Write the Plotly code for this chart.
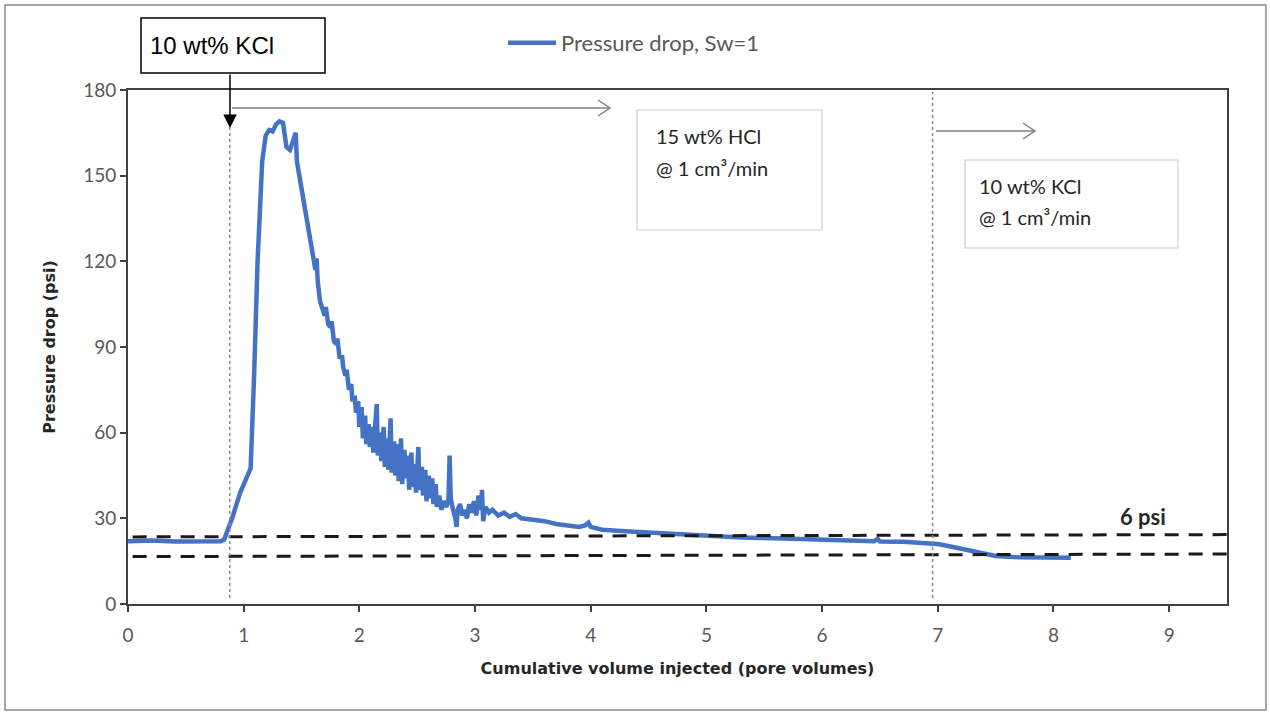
import plotly.graph_objects as go

# ---------------- data ----------------
pv = [0.0, 0.2, 0.4, 0.6, 0.8, 0.83, 0.9, 0.97, 1.03, 1.06, 1.09, 1.12, 1.16, 1.19,
      1.22, 1.25, 1.28, 1.31, 1.34, 1.37, 1.40, 1.43, 1.45, 1.46, 1.50, 1.55, 1.60,
      1.62, 1.63, 1.64, 1.66, 1.68, 1.70, 1.71, 1.73, 1.75, 1.76, 1.78, 1.80, 1.81,
      1.83, 1.85, 1.86, 1.88, 1.89, 1.91, 1.93, 1.94, 1.96, 1.97, 1.99, 2.00, 2.02,
      2.03, 2.05, 2.06, 2.08, 2.09, 2.11, 2.12, 2.14, 2.15, 2.16, 2.18, 2.19, 2.21,
      2.22, 2.24, 2.25, 2.27, 2.28, 2.30, 2.31, 2.33, 2.34, 2.36, 2.37, 2.39, 2.40,
      2.42, 2.43, 2.45, 2.46, 2.48, 2.49, 2.51, 2.52, 2.54, 2.55, 2.57, 2.58, 2.60,
      2.61, 2.63, 2.64, 2.66, 2.67, 2.69, 2.71, 2.73, 2.75, 2.77, 2.78, 2.79, 2.81,
      2.83, 2.84, 2.85, 2.87, 2.89, 2.91, 2.93, 2.95, 2.97, 2.99, 3.01, 3.03, 3.05,
      3.06, 3.07, 3.09, 3.12, 3.15, 3.20, 3.25, 3.30, 3.35, 3.40, 3.50, 3.60, 3.70,
      3.80, 3.90, 3.95, 3.98, 4.00, 4.10, 4.30, 4.50, 4.70, 5.00, 5.30, 5.60, 5.90,
      6.20, 6.45, 6.48, 6.50, 6.70, 6.90, 7.00, 7.10, 7.20, 7.30, 7.40, 7.50, 7.70,
      7.90, 8.10, 8.15]
dp = [22.0, 22.2, 21.9, 22.1, 22.0, 22.5, 30.0, 39.0, 45.0, 47.5, 80.0, 120.0, 155.0, 164.0,
      166.0, 165.5, 168.0, 169.0, 168.5, 160.0, 159.0, 162.0, 165.0, 155.0, 145.0, 133.0, 120.0,
      117.0, 121.0, 113.0, 106.0, 104.0, 101.0, 104.0, 98.0, 97.0, 99.0, 92.0, 91.0, 93.0,
      86.0, 87.0, 83.0, 80.0, 82.0, 75.0, 77.0, 71.0, 73.0, 67.0, 71.0, 62.0, 69.0,
      58.0, 66.0, 56.0, 63.0, 55.0, 62.0, 53.0, 67.0, 70.0, 52.0, 60.0, 50.0, 62.0,
      48.0, 58.0, 47.0, 65.0, 46.0, 57.0, 45.0, 56.0, 43.0, 58.0, 42.0, 54.0, 44.0,
      52.0, 40.0, 53.0, 41.0, 49.0, 39.0, 55.0, 40.0, 48.0, 38.0, 47.0, 36.0, 45.0,
      37.0, 44.0, 35.0, 42.0, 34.0, 38.0, 33.0, 36.0, 34.0, 36.0, 52.0, 37.0, 33.0,
      30.0, 27.0, 33.0, 35.0, 31.0, 33.0, 30.0, 35.0, 32.0, 36.0, 31.0, 38.0, 33.0,
      40.0, 29.0, 34.0, 32.0, 33.0, 31.0, 32.0, 30.5, 31.5, 30.0, 29.5, 29.0, 28.0,
      27.5, 27.0, 27.5, 28.5, 27.0, 26.0, 25.5, 25.0, 24.5, 23.8, 23.3, 23.0, 22.7,
      22.4, 22.0, 22.8, 21.9, 21.8, 21.5, 21.0, 20.2, 19.3, 18.3, 17.4, 16.8, 16.4,
      16.2, 16.0, 16.2]

ref_x = [0.04, 9.5]          # reference (dashed) lines
ref_upper = [23.5, 24.3]
ref_lower = [16.6, 17.5]
phase_x = [0.88, 6.955]      # fluid switch points

x_ticks = [0, 1, 2, 3, 4, 5, 6, 7, 8, 9]
y_ticks = [0, 30, 60, 90, 120, 150, 180]

# ---------------- layout helpers ----------------
W, H = 1270, 713
L, R, T, B = 128, 1227, 90, 604


def px(p):
    return (p - L) / (R - L)


def py(p):
    return (B - p) / (B - T)


BLUE = "#4472C4"
GRAY_TXT = "#595959"
DARK_TXT = "#262626"

fig = go.Figure()
fig.add_trace(go.Scatter(x=pv, y=dp, mode="lines", name="Pressure drop, Sw=1",
                         line=dict(color=BLUE, width=4.5)))
for yy in (ref_upper, ref_lower):
    fig.add_trace(go.Scatter(x=ref_x, y=yy, mode="lines", showlegend=False,
                             line=dict(color="#1a1a1a", width=3, dash="14px,10px")))

shapes = []
# vertical dotted lines
shapes.append(dict(type="line", xref="x", yref="paper", x0=phase_x[0], x1=phase_x[0],
                   y0=py(598), y1=py(127), line=dict(color="#8c8c8c", width=1.5, dash="dot")))
shapes.append(dict(type="line", xref="x", yref="paper", x0=phase_x[1], x1=phase_x[1],
                   y0=py(598), y1=py(92), line=dict(color="#8c8c8c", width=1.5, dash="dot")))


def gray_arrow(xa, xb, yp):
    shapes.append(dict(type="line", xref="paper", yref="paper", x0=px(xa), x1=px(xb),
                       y0=py(yp), y1=py(yp), line=dict(color="#7f7f7f", width=1.5)))
    shapes.append(dict(type="path", xref="paper", yref="paper",
                       path=f"M {px(xb-12)} {py(yp-8)} L {px(xb)} {py(yp)} L {px(xb-12)} {py(yp+8)}",
                       line=dict(color="#7f7f7f", width=1.5)))


gray_arrow(232, 610, 108)
gray_arrow(936, 1035, 131)

# boxes
shapes.append(dict(type="rect", xref="paper", yref="paper", x0=px(141), x1=px(325),
                   y0=py(73), y1=py(18), line=dict(color="black", width=1.5),
                   fillcolor="white", layer="above"))
shapes.append(dict(type="rect", xref="paper", yref="paper", x0=px(637), x1=px(822),
                   y0=py(230), y1=py(110), line=dict(color="#d0d0d0", width=1.2),
                   fillcolor="white", layer="below"))
shapes.append(dict(type="rect", xref="paper", yref="paper", x0=px(965), x1=px(1178),
                   y0=py(248), y1=py(160), line=dict(color="#d0d0d0", width=1.2),
                   fillcolor="white", layer="below"))
# outer frame
shapes.append(dict(type="rect", xref="paper", yref="paper", x0=px(5), x1=px(1266),
                   y0=py(710), y1=py(5), line=dict(color="#8a8a8a", width=1.5)))


def txt(s, xp, yp, size, family="Lato", color=DARK_TXT, anchor="left"):
    return dict(text=s, xref="paper", yref="paper", x=px(xp), y=py(yp),
                xanchor=anchor, yanchor="middle", showarrow=False,
                font=dict(family=family, size=size, color=color))


annotations = [
    txt("10 wt% KCl", 148, 45, 24, family="Liberation Sans, Arial", color="black"),
    # black arrow from box to dotted line
    dict(text="", xref="paper", yref="paper", x=px(230), y=py(128), ax=0, ay=-55,
         axref="pixel", ayref="pixel", showarrow=True, arrowhead=2, arrowsize=1.8,
         arrowwidth=1.5, arrowcolor="black"),
    txt("15 wt% HCl", 654, 136, 20),
    txt("@ 1 cm³/min", 654, 168, 20),
    txt("10 wt% KCl", 977, 186, 20),
    txt("@ 1 cm³/min", 977, 217, 20),
    txt("<b>6 psi</b>", 1143, 516, 22, anchor="center"),
]

fig.update_layout(
    width=W, height=H,
    margin=dict(l=L, r=W - R, t=T, b=H - B),
    paper_bgcolor="white", plot_bgcolor="white",
    shapes=shapes, annotations=annotations,
    showlegend=True,
    legend=dict(x=px(503), y=py(43), xanchor="left", yanchor="middle",
                orientation="h", bgcolor="rgba(0,0,0,0)",
                font=dict(family="Lato", size=22, color=GRAY_TXT), itemwidth=48),
    xaxis=dict(range=[0, 9.5], tickvals=x_ticks, ticks="outside", ticklen=6,
               tickwidth=2, tickcolor="#404040", showline=True, linecolor="#404040",
               linewidth=2, mirror=True, showgrid=False, zeroline=False,
               ticklabelstandoff=7,
               tickfont=dict(family="Lato", size=19, color=GRAY_TXT),
               title=dict(text="<b>Cumulative volume injected (pore volumes)</b>",
                          font=dict(family="DejaVu Sans", size=16, color=DARK_TXT),
                          standoff=18)),
    yaxis=dict(range=[0, 180], tickvals=y_ticks, ticks="outside", ticklen=6,
               tickwidth=2, tickcolor="#404040", showline=True, linecolor="#404040",
               linewidth=2, mirror=True, showgrid=False, zeroline=False,
               tickfont=dict(family="Lato", size=19, color=GRAY_TXT),
               title=dict(text="<b>Pressure drop (psi)</b>",
                          font=dict(family="DejaVu Sans", size=16, color=DARK_TXT),
                          standoff=24)),
)

fig.write_html("out.html")
